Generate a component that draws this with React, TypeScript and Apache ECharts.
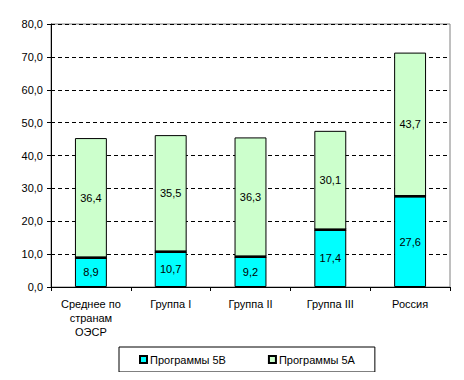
import React, { useEffect, useRef } from "react";
import * as echarts from "echarts";

const categories = ["Среднее по\nстранам\nОЭСР", "Группа I", "Группа II", "Группа III", "Россия"];
const programs5B = [8.9, 10.7, 9.2, 17.4, 27.6];
const programs5A = [36.4, 35.5, 36.3, 30.1, 43.7];
const seriesNames = ["Программы 5В", "Программы 5А"];

const FONT = "'Liberation Sans', Arial, sans-serif";
const fmt = (v: number) => v.toFixed(1).replace(".", ",");

export default function App() {
  const ref = useRef<HTMLDivElement>(null);
  useEffect(() => {
    if (!ref.current) return;
    const chart = echarts.init(ref.current, null, { renderer: "svg" });
    chart.setOption({
      animation: false,
      backgroundColor: "#ffffff",
      textStyle: { fontFamily: FONT },
      grid: {
        left: 51,
        right: 14,
        top: 24,
        bottom: 93,
        show: true,
        borderColor: "#808080",
        borderWidth: 1,
      },
      legend: {
        data: seriesNames,
        left: 119,
        top: 347,
        orient: "horizontal",
        borderColor: "#000",
        borderWidth: 1,
        padding: [7, 20, 7, 20],
        itemWidth: 7,
        itemHeight: 7,
        itemGap: 42,
        icon: "rect",
        textStyle: { fontFamily: FONT, fontSize: 11, color: "#000", padding: [0, 0, 0, -2] },
      },
      xAxis: {
        type: "category",
        data: categories,
        axisLine: { show: true, lineStyle: { color: "#000", width: 1 } },
        axisTick: { show: true, alignWithLabel: false, length: 4, lineStyle: { color: "#000" } },
        axisLabel: {
          fontFamily: FONT,
          fontSize: 11,
          color: "#000",
          lineHeight: 14,
          margin: 10,
          interval: 0,
        },
      },
      yAxis: {
        type: "value",
        min: 0,
        max: 80,
        interval: 10,
        axisLine: { show: true, lineStyle: { color: "#000", width: 1 } },
        axisTick: { show: true, length: 4, lineStyle: { color: "#000" } },
        axisLabel: {
          fontFamily: FONT,
          fontSize: 11,
          color: "#000",
          margin: 8,
          formatter: (v: number) => fmt(v),
        },
        splitLine: { show: true, lineStyle: { color: "#000", type: [4, 3], width: 1 } },
      },
      series: [
        {
          name: seriesNames[0],
          type: "bar",
          stack: "total",
          data: programs5B,
          barWidth: "40%",
          itemStyle: { color: "#00FFFF", borderColor: "#000", borderWidth: 1 },
          label: {
            show: true,
            position: "inside",
            fontFamily: FONT,
            fontSize: 11,
            color: "#000",
            formatter: (p: any) => fmt(p.value),
          },
        },
        {
          name: seriesNames[1],
          type: "bar",
          stack: "total",
          data: programs5A,
          barWidth: "40%",
          itemStyle: { color: "#CCFFCC", borderColor: "#000", borderWidth: 1 },
          label: {
            show: true,
            position: "inside",
            fontFamily: FONT,
            fontSize: 11,
            color: "#000",
            formatter: (p: any) => fmt(p.value),
          },
        },
        {
          name: "sep",
          type: "custom",
          silent: true,
          data: programs5B.map((v, i) => [i, v]),
          renderItem: (params: any, api: any) => {
            const pt = api.coord([api.value(0), api.value(1)]);
            const w = (api.size([1, 0])[0] as number) * 0.4;
            return {
              type: "line",
              shape: { x1: pt[0] - w / 2, y1: pt[1], x2: pt[0] + w / 2, y2: pt[1] },
              style: { stroke: "#000", lineWidth: 2.5 },
              z2: 10,
            };
          },
          z: 5,
        },
      ],
    });
    return () => chart.dispose();
  }, []);
  return <div ref={ref} style={{ width: 464, height: 380, margin: -8 }} />;
}
